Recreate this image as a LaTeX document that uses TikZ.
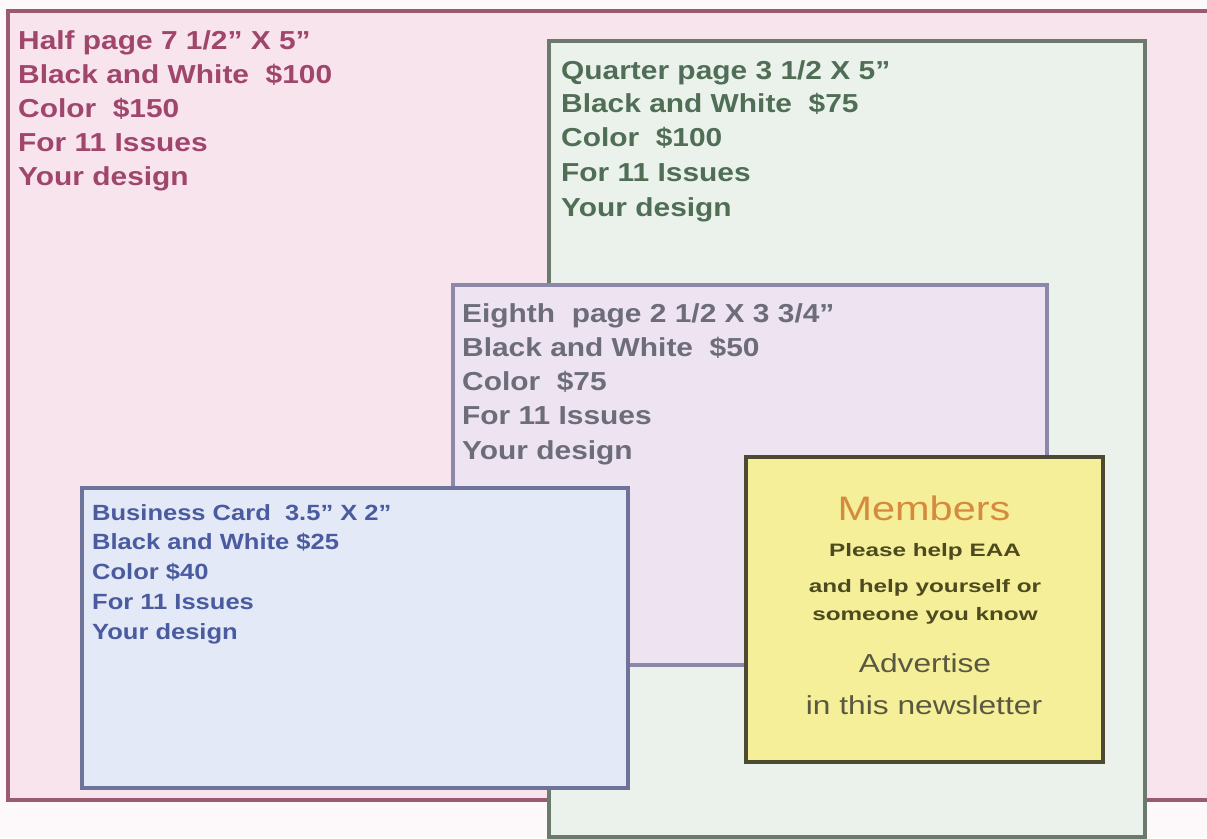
\documentclass[tikz,border=0pt]{standalone}
\usepackage{fontspec}
\setmainfont{Liberation Sans}
\newfontfamily\boxfont[FakeStretch=1.15]{Liberation Sans}
\newfontfamily\cardfont[FakeStretch=1.16]{Liberation Sans}
\newfontfamily\ywide[FakeStretch=1.35]{Liberation Sans}
\newfontfamily\ymid[FakeStretch=1.22]{Liberation Sans}
\definecolor{bgc}{HTML}{FDF8FA}
\definecolor{pinkfill}{HTML}{F8E4EC}
\definecolor{pinkline}{HTML}{9A5A72}
\definecolor{pinktext}{HTML}{A0466C}
\definecolor{greenfill}{HTML}{EBF2EC}
\definecolor{greenline}{HTML}{6B7A6C}
\definecolor{greentext}{HTML}{4F6E55}
\definecolor{lavfill}{HTML}{EEE3F0}
\definecolor{lavline}{HTML}{8D88AA}
\definecolor{lavtext}{HTML}{6C6C7A}
\definecolor{bluefill}{HTML}{E3E9F7}
\definecolor{blueline}{HTML}{6E7399}
\definecolor{bluetext}{HTML}{4A5BA0}
\definecolor{yelfill}{HTML}{F5EF9A}
\definecolor{yelline}{HTML}{4D4A33}
\definecolor{memtext}{HTML}{D58A3E}
\definecolor{yeltext}{HTML}{4C4A1E}
\definecolor{advtext}{HTML}{5A5840}
\begin{document}
\begin{tikzpicture}[x=1pt,y=-1pt,
  adbox/.style={line width=3.5pt},
  adline/.style={anchor=base west, inner sep=0pt, font=\boxfont\bfseries\fontsize{26}{30}\selectfont},
  cardline/.style={anchor=base west, inner sep=0pt, font=\cardfont\bfseries\fontsize{22}{26}\selectfont, text=bluetext},
  yline/.style={anchor=base, inner sep=0pt}]
\clip (0,0) rectangle (1207,838);
\fill[bgc] (0,0) rectangle (1207,838);
% half page
\draw[adbox, fill=pinkfill, draw=pinkline] (8,11) rectangle (1220,800);
\node[adline, text=pinktext] (h1) at (18,49) {Half page 7 1/2” X 5”};
\node[adline, text=pinktext] (h2) at (18,83) {Black and White~ \$100};
\node[adline, text=pinktext] (h3) at (18,117) {Color~ \$150};
\node[adline, text=pinktext] (h4) at (18,151) {For 11 Issues};
\node[adline, text=pinktext] (h5) at (18,185) {Your design};
% quarter page
\draw[adbox, fill=greenfill, draw=greenline] (549,41) rectangle (1145,837);
\node[adline, text=greentext] (q1) at (561,79) {Quarter page 3 1/2 X 5”};
\node[adline, text=greentext] (q2) at (561,112) {Black and White~ \$75};
\node[adline, text=greentext] (q3) at (561,146) {Color~ \$100};
\node[adline, text=greentext] (q4) at (561,181) {For 11 Issues};
\node[adline, text=greentext] (q5) at (561,216) {Your design};
% eighth page
\draw[adbox, fill=lavfill, draw=lavline] (453,285) rectangle (1047,665);
\node[adline, text=lavtext] (e1) at (462,322) {Eighth~ page 2 1/2 X 3 3/4”};
\node[adline, text=lavtext] (e2) at (462,356) {Black and White~ \$50};
\node[adline, text=lavtext] (e3) at (462,390) {Color~ \$75};
\node[adline, text=lavtext] (e4) at (462,424) {For 11 Issues};
\node[adline, text=lavtext] (e5) at (462,459) {Your design};
% business card
\draw[adbox, fill=bluefill, draw=blueline] (82,488) rectangle (628,788);
\node[cardline] (b1) at (92,520) {Business Card~ 3.5” X 2”};
\node[cardline] (b2) at (92,549) {Black and White \$25};
\node[cardline] (b3) at (92,579) {Color \$40};
\node[cardline] (b4) at (92,609) {For 11 Issues};
\node[cardline] (b5) at (92,639) {Your design};
% members box
\draw[adbox, fill=yelfill, draw=yelline] (746,457) rectangle (1103,762);
\node[yline, text=memtext, font=\ymid\fontsize{34}{38}\selectfont] (m1) at (924,520) {Members};
\node[yline, text=yeltext, font=\ywide\bfseries\fontsize{18}{20}\selectfont] (m2) at (925,556) {Please help EAA};
\node[yline, text=yeltext, font=\ywide\bfseries\fontsize{18}{20}\selectfont] (m3) at (925,592) {and help yourself or};
\node[yline, text=yeltext, font=\ywide\bfseries\fontsize{18}{20}\selectfont] (m4) at (925,620) {someone you know};
\node[yline, text=advtext, font=\ymid\fontsize{26}{30}\selectfont] (m5) at (925,672) {Advertise};
\node[yline, text=advtext, font=\ymid\fontsize{26}{30}\selectfont] (m6) at (924,714) {in this newsletter};
\end{tikzpicture}
\end{document}
